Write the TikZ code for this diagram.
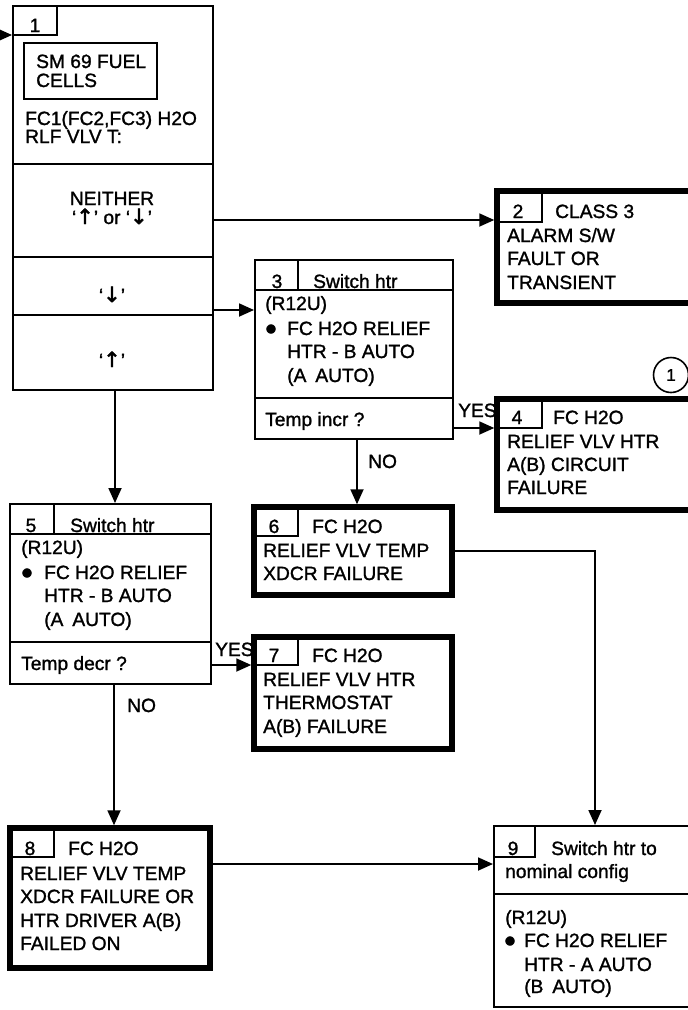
\documentclass[tikz,border=0pt]{standalone}
\usepackage{fontspec}
\setmainfont{Liberation Sans}[RawFeature={embolden=1.3}]
\newfontfamily\symfont{DejaVu Sans}[RawFeature={embolden=2}]
\usetikzlibrary{arrows.meta,fit}
\newcommand\uparr{{\symfont\fontsize{21}{21}\selectfont ↑}}
\newcommand\dnarr{{\symfont\fontsize{21}{21}\selectfont ↓}}
\begin{document}
\begin{tikzpicture}[x=1pt,y=-1pt,
  txt/.style={anchor=base west, inner sep=0, font=\fontsize{19.2}{22}\selectfont},
  ctxt/.style={anchor=base, inner sep=0, font=\fontsize{19.2}{22}\selectfont},
  thinbox/.style={draw, line width=2pt, inner sep=0},
  thickbox/.style={draw, line width=5.5pt, inner sep=0},
  rule/.style={line width=1.6pt},
  divider/.style={line width=2.6pt},
  arr/.style={line width=1.8pt, -{Triangle[length=15pt,width=13pt]}},
  bul/.style={anchor=center, inner sep=0, font=\symfont\fontsize{12}{12}\selectfont}]
\path[use as bounding box, clip] (0,0) rectangle (688,1010);

% ---------- box 1 ----------
\node[thinbox, fit={(13,6) (213,390)}] (b1) {};
\draw[rule] (13,35) -| (57,6);
\node[ctxt] (n1) at (35,32) {1};
\node[thinbox, fit={(24,43) (157,99)}] (b1t) {};
\node[txt] (t1a) at (36,68) {SM 69 FUEL};
\node[txt] (t1b) at (36,87) {CELLS};
\node[txt] (t1c) at (25,125) {FC1(FC2,FC3) H2O};
\node[txt] (t1d) at (25,143) {RLF VLV T:};
\draw[divider] (13,164) -- (213,164);
\draw[divider] (13,257) -- (213,257);
\draw[divider] (13,315) -- (213,315);
\node[ctxt] (t1e) at (112,205) {NEITHER};
\node[ctxt] (t1f) at (112,224) {‘\uparr’ or ‘\dnarr’};
\node[ctxt] (t1g) at (112,302) {‘\dnarr’};
\node[ctxt] (t1h) at (112,367) {‘\uparr’};

% ---------- box 2 ----------
\node[thickbox, fit={(497,191) (730,303)}] (b2) {};
\draw[rule] (499,222) -| (542,193);
\node[ctxt] (n2) at (518,218) {2};
\node[txt] (t2a) at (555,218) {CLASS 3};
\node[txt] (t2b) at (507,242) {ALARM S/W};
\node[txt] (t2c) at (507,265) {FAULT OR};
\node[txt] (t2d) at (507,289) {TRANSIENT};

% ---------- box 3 ----------
\node[thinbox, fit={(255,260) (453,439)}] (b3) {};
\draw[rule] (255,290) -- (453,290);
\draw[rule] (298,260) -- (298,290);
\draw[divider] (255,398) -- (453,398);
\node[ctxt] (n3) at (277,288) {3};
\node[txt] (t3a) at (313,288) {Switch htr};
\node[txt] (t3b) at (265,310) {(R12U)};
\node[bul] (t3c) at (271,329) {●};
\node[txt] (t3d) at (287,335) {FC H2O RELIEF};
\node[txt] (t3e) at (287,358) {HTR - B AUTO};
\node[txt] (t3f) at (287,382) {(A\hspace{9pt}AUTO)};
\node[txt] (t3g) at (265,426) {Temp incr ?};

% ---------- box 4 ----------
\node[thickbox, fit={(497,399) (730,510)}] (b4) {};
\draw[rule] (499,428) -| (542,401);
\node[ctxt] (n4) at (517,424) {4};
\node[txt] (t4a) at (553,424) {FC H2O};
\node[txt] (t4b) at (507,448) {RELIEF VLV HTR};
\node[txt] (t4c) at (507,471) {A(B) CIRCUIT};
\node[txt] (t4d) at (507,494) {FAILURE};
\node[draw, circle, line width=1.6pt, minimum size=35pt, inner sep=0,
      font=\fontsize{17}{17}\selectfont] (c1) at (671,375) {1};

% ---------- box 5 ----------
\node[thinbox, fit={(10,504) (211,684)}] (b5) {};
\draw[rule] (10,534) -- (211,534);
\draw[rule] (54,504) -- (54,534);
\draw[divider] (10,642) -- (211,642);
\node[ctxt] (n5) at (31,532) {5};
\node[txt] (t5a) at (70,532) {Switch htr};
\node[txt] (t5b) at (21,554) {(R12U)};
\node[bul] (t5c) at (27,573) {●};
\node[txt] (t5d) at (44,579) {FC H2O RELIEF};
\node[txt] (t5e) at (44,602) {HTR - B AUTO};
\node[txt] (t5f) at (44,626) {(A\hspace{9pt}AUTO)};
\node[txt] (t5g) at (21,670) {Temp decr ?};

% ---------- box 6 ----------
\node[thickbox, fit={(254,507) (452,595)}] (b6) {};
\draw[rule] (256.5,536) -| (298,509.5);
\node[ctxt] (n6) at (274,533) {6};
\node[txt] (t6a) at (312,533) {FC H2O};
\node[txt] (t6b) at (263,557) {RELIEF VLV TEMP};
\node[txt] (t6c) at (263,580) {XDCR FAILURE};

% ---------- box 7 ----------
\node[thickbox, fit={(254,637) (452,749)}] (b7) {};
\draw[rule] (256.5,665) -| (298,639.5);
\node[ctxt] (n7) at (274,662) {7};
\node[txt] (t7a) at (312,662) {FC H2O};
\node[txt] (t7b) at (263,686) {RELIEF VLV HTR};
\node[txt] (t7c) at (263,709) {THERMOSTAT};
\node[txt] (t7d) at (263,733) {A(B) FAILURE};

% ---------- box 8 ----------
\node[thickbox, fit={(10,828) (210,968)}] (b8) {};
\draw[rule] (12.5,857) -| (54,830.5);
\node[ctxt] (n8) at (30,855) {8};
\node[txt] (t8a) at (68,855) {FC H2O};
\node[txt] (t8b) at (20,880) {RELIEF VLV TEMP};
\node[txt] (t8c) at (20,903) {XDCR FAILURE OR};
\node[txt] (t8d) at (20,927) {HTR DRIVER A(B)};
\node[txt] (t8e) at (20,950) {FAILED ON};

% ---------- box 9 ----------
\node[thinbox, fit={(494,826) (730,1007)}] (b9) {};
\draw[rule] (494,857) -| (535,826);
\draw[divider] (494,894) -- (730,894);
\node[ctxt] (n9) at (513,855) {9};
\node[txt] (t9a) at (551,855) {Switch htr to};
\node[txt] (t9b) at (505,878) {nominal config};
\node[txt] (t9c) at (505,924) {(R12U)};
\node[bul] (t9d) at (510,941) {●};
\node[txt] (t9e) at (524,947) {FC H2O RELIEF};
\node[txt] (t9f) at (524,971) {HTR - A AUTO};
\node[txt] (t9g) at (524,993) {(B\hspace{9pt}AUTO)};

% ---------- connector levels ----------
\coordinate (in1) at (-2,35);
\coordinate (k1) at (0,220);
\coordinate (k2) at (0,310);
\coordinate (k3) at (115,0);
\coordinate (k4) at (0,428);
\coordinate (k5) at (357,0);
\coordinate (k6) at (0,665);
\coordinate (k7) at (114,0);
\coordinate (k8) at (595,551);
\coordinate (k9) at (0,864);

\draw[arr] (in1) -- (b1.west |- in1);
\draw[arr] (b1.east |- k1) -- (b2.west |- k1);
\draw[arr] (b1.east |- k2) -- (b3.west |- k2);
\draw[arr] (b1.south -| k3) -- (b5.north -| k3);
\draw[arr] (b3.east |- k4) -- (b4.west |- k4);
\draw[arr] (b3.south -| k5) -- (b6.north -| k5);
\draw[arr] (b5.east |- k6) -- (b7.west |- k6);
\draw[arr] (b5.south -| k7) -- (b8.north -| k7);
\draw[arr] (b6.east |- k8) -| (b9.north -| k8);
\draw[arr] (b8.east |- k9) -- (b9.west |- k9);

\node[txt] (yes1) at (458,417) {YES};
\node[txt] (no1) at (368,468) {NO};
\node[txt] (yes2) at (215,656) {YES};
\node[txt] (no2) at (127,712) {NO};
\end{tikzpicture}
\end{document}
